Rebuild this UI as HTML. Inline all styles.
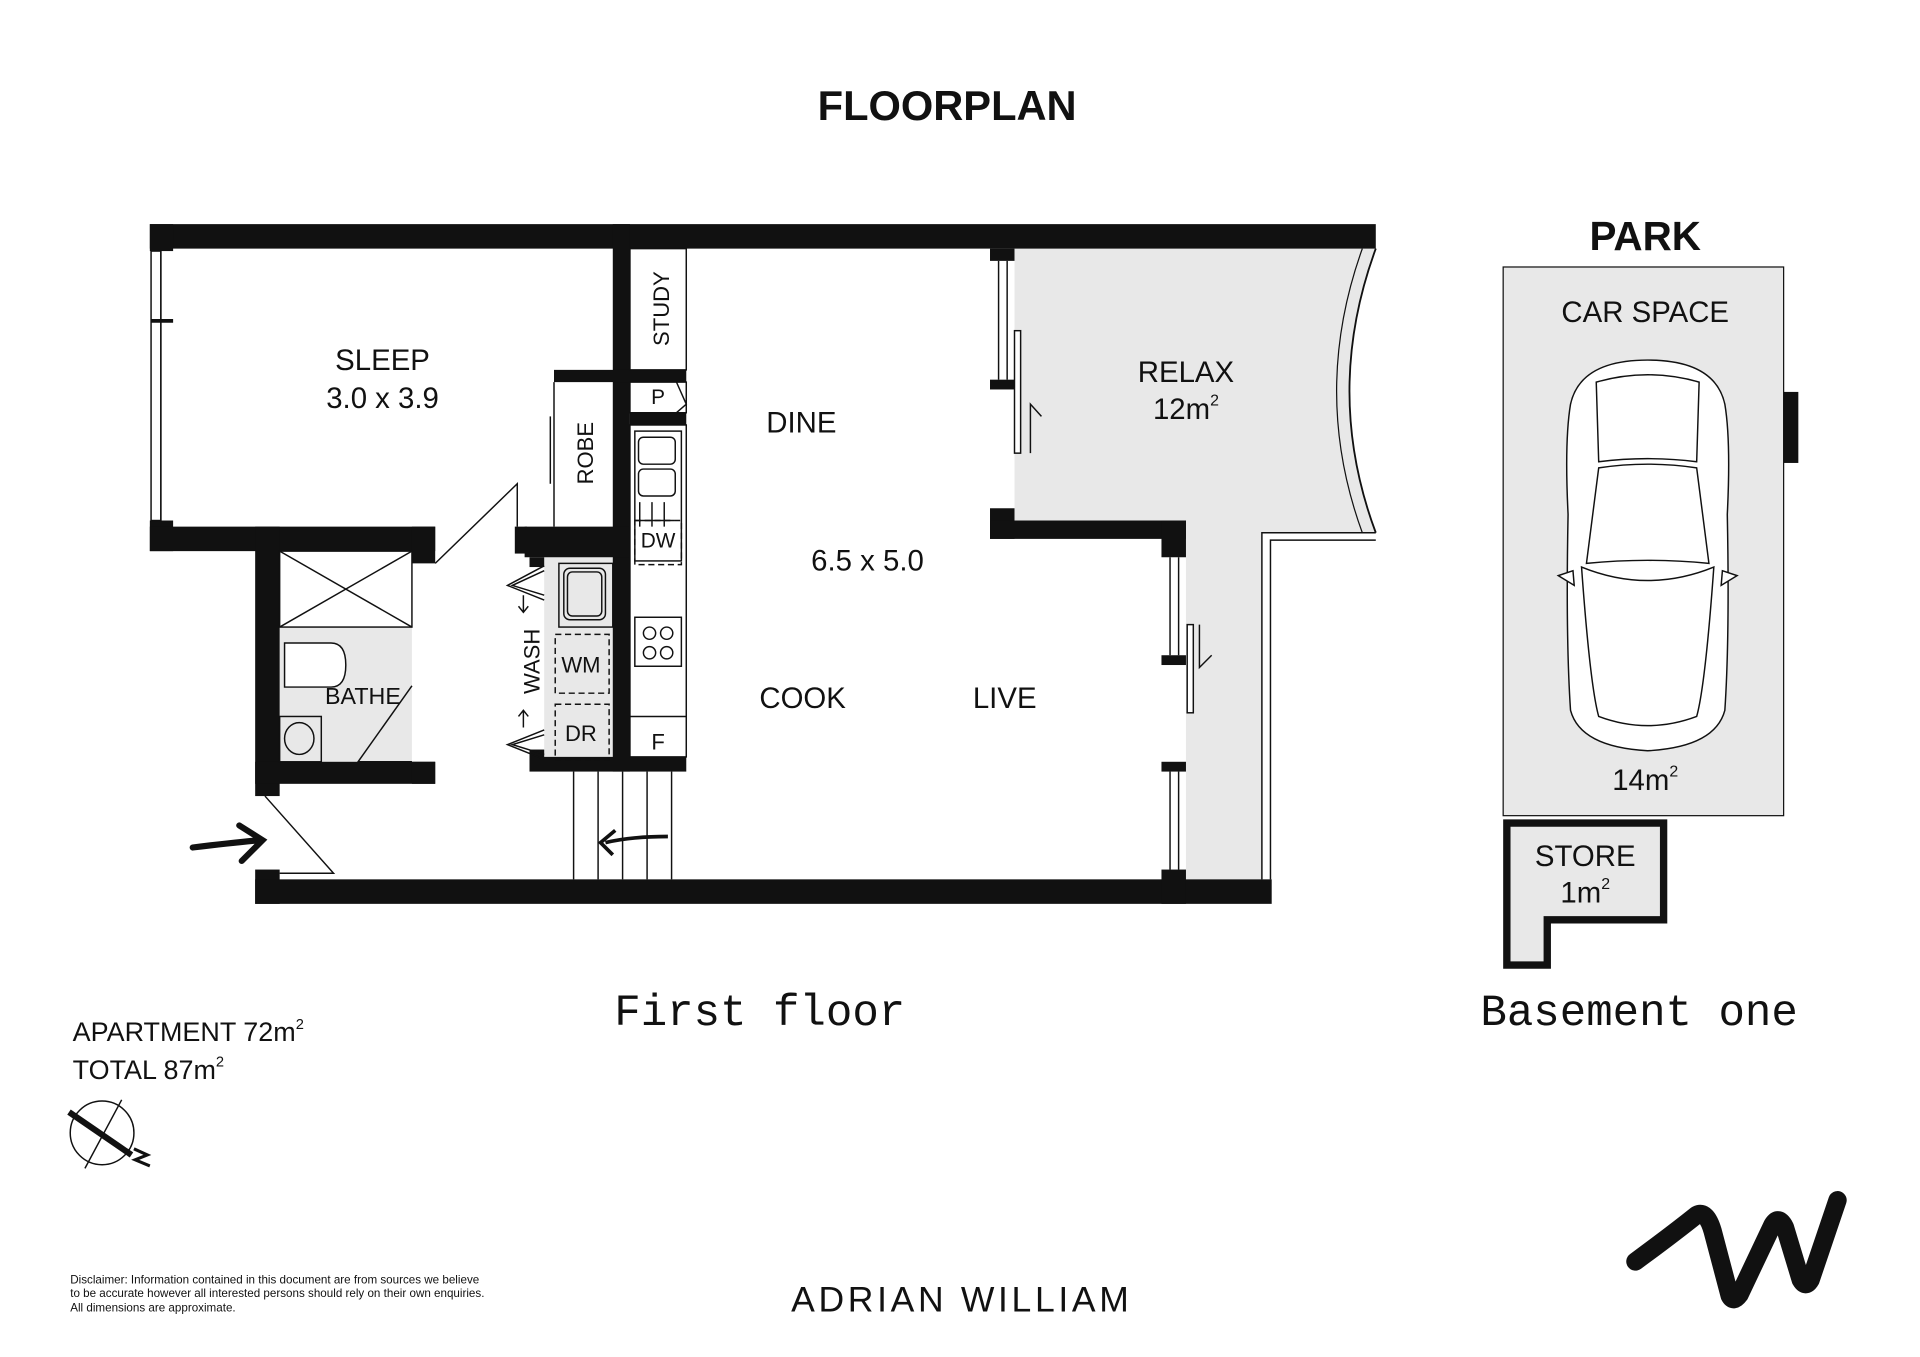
<!DOCTYPE html>
<html><head><meta charset="utf-8"><style>
html,body{margin:0;padding:0;background:#fff;}
svg{display:block;}
text{font-family:"Liberation Sans",sans-serif;fill:#111;}
</style></head><body>
<svg width="1920" height="1357" viewBox="0 0 1567 1108" xmlns="http://www.w3.org/2000/svg">
<rect width="1567" height="1108" fill="#fff"/>
<text x="773" y="98" font-size="34" font-weight="bold" text-anchor="middle">FLOORPLAN</text>

<path d="M828 203 L1123 203 Q1080 320 1123 435 L1030 435 L1030 718 L968 718 L968 425 L828 425 Z" fill="#e8e8e8"/>
<path d="M1123 203 Q1080 320 1123 435" fill="none" stroke="#111" stroke-width="1.5"/>
<path d="M1112 203 Q1070 320 1112 435" fill="none" stroke="#111" stroke-width="1"/>
<path d="M1123 435 L1030 435 L1030 718 M1123 441 L1037 441 L1037 718" fill="none" stroke="#111" stroke-width="1.2"/>
<rect x="228" y="512" width="108" height="110" fill="#e8e8e8"/>
<rect x="444" y="455" width="56" height="168" fill="#e8e8e8"/>

<g fill="#111">
<rect x="122" y="183" width="1001" height="20"/>
<rect x="122" y="183" width="19" height="22"/>
<rect x="122" y="425" width="19" height="25"/>
<rect x="122" y="430" width="233" height="20"/>
<rect x="208" y="430" width="20" height="220"/>
<rect x="208" y="622" width="147" height="18"/>
<rect x="336" y="430" width="19" height="30"/>
<rect x="336" y="622" width="19" height="18"/>
<rect x="208" y="710" width="20" height="28"/>
<rect x="208" y="718" width="830" height="20"/>
<rect x="500" y="183" width="14" height="447"/>
<rect x="452" y="302" width="108" height="10"/>
<rect x="514" y="337" width="46" height="10"/>
<rect x="428" y="430" width="86" height="25"/>
<rect x="420" y="430" width="10" height="22"/>
<rect x="432" y="455" width="12" height="8"/>
<rect x="432" y="612" width="12" height="16"/>
<rect x="432" y="618" width="128" height="12"/>
<rect x="808" y="203" width="20" height="10"/>
<rect x="808" y="310" width="20" height="8"/>
<rect x="808" y="415" width="20" height="25"/>
<rect x="808" y="425" width="160" height="15"/>
<rect x="948" y="425" width="20" height="30"/>
<rect x="948" y="535" width="20" height="8"/>
<rect x="948" y="622" width="20" height="8"/>
<rect x="948" y="710" width="20" height="28"/>
<rect x="1442" y="320" width="26" height="58"/>
</g>

<g fill="none" stroke="#111" stroke-width="1.2">
<rect x="123" y="205" width="8" height="220"/><line x1="131" y1="205" x2="131" y2="425"/><line x1="123" y1="262" x2="141" y2="262" stroke-width="3"/>
<line x1="815" y1="213" x2="815" y2="310"/><line x1="822" y1="213" x2="822" y2="310"/>
<rect x="828" y="270" width="5" height="100" fill="#fff"/>
<path d="M841 370 V330 L850 340"/>
<line x1="955" y1="455" x2="955" y2="535"/><line x1="962" y1="455" x2="962" y2="535"/>
<rect x="969" y="510" width="5" height="72" fill="#fff"/>
<path d="M979 510 V545 L989 535"/>
<line x1="955" y1="630" x2="955" y2="710"/><line x1="962" y1="630" x2="962" y2="710"/>
<rect x="514" y="203" width="46" height="99"/>
<rect x="514" y="312" width="46" height="25"/>
<path d="M552 312 L560 330 L552 337"/>
<rect x="514" y="347" width="46" height="271"/>
<line x1="514" y1="585" x2="560" y2="585"/>
<rect x="518" y="352" width="38" height="106"/>
<rect x="521" y="357" width="30" height="22" rx="4"/><rect x="521" y="383" width="30" height="22" rx="4"/>
<line x1="522" y1="410" x2="522" y2="430"/><line x1="532" y1="410" x2="532" y2="430"/><line x1="542" y1="410" x2="542" y2="430"/><line x1="518" y1="425" x2="550" y2="425"/>
<rect x="518" y="425" width="38" height="36" stroke-dasharray="5 3"/>
<rect x="518" y="504" width="38" height="40"/>
<circle cx="530" cy="517" r="5"/><circle cx="544" cy="517" r="5"/><circle cx="530" cy="533" r="5"/><circle cx="544" cy="533" r="5"/>
<line x1="452" y1="312" x2="452" y2="430"/><line x1="449" y1="340" x2="449" y2="395"/>
<rect x="456" y="460" width="44" height="52"/>
<rect x="460" y="464" width="34" height="42" rx="5"/><rect x="463" y="467" width="28" height="36" rx="4"/>
<rect x="453" y="518" width="44" height="48" stroke-dasharray="5 3"/>
<rect x="453" y="575" width="44" height="45" stroke-dasharray="5 3"/>
<path d="M444 462 L414 478 L444 490 M444 466 L418 478 L444 486"/>
<path d="M444 596 L414 608 L444 620 M444 600 L418 608 L444 616"/>
<path d="M427 486 V500 M423 495 L427 500 L431 495"/>
<path d="M427 594 V580 M423 585 L427 580 L431 585"/>
<rect x="228" y="450" width="108" height="62"/>
<line x1="228" y1="450" x2="336" y2="512"/><line x1="336" y1="450" x2="228" y2="512"/>
<path d="M232 525 H270 Q282 525 282 543 Q282 561 270 561 H232 Z" fill="#fff"/>
<rect x="228" y="585" width="34" height="37"/><ellipse cx="244" cy="603" rx="12" ry="13"/>
<path d="M355 460 L422 395 L422 430"/>
<path d="M336 560 L292 622 L336 622"/>
<path d="M216 650 L272 713 L228 713"/>
<line x1="468" y1="630" x2="468" y2="718"/><line x1="488" y1="630" x2="488" y2="718"/><line x1="508" y1="630" x2="508" y2="718"/><line x1="528" y1="630" x2="528" y2="718"/><line x1="548" y1="630" x2="548" y2="718"/>
</g>
<path d="M545 683 Q515 683 494 688 M502 678 L490 688 L500 698" fill="none" stroke="#111" stroke-width="3"/>
<path d="M157 692 Q190 688 212 686 M195 674 L214 686 L197 703" fill="none" stroke="#111" stroke-width="5" stroke-linecap="round"/>

<g font-size="24" text-anchor="middle">
<text x="312" y="302">SLEEP</text><text x="312" y="333">3.0 x 3.9</text>
<text x="654" y="353">DINE</text>
<text x="708" y="466">6.5 x 5.0</text>
<text x="655" y="578">COOK</text><text x="820" y="578">LIVE</text>
<text x="968" y="312">RELAX</text><text x="968" y="342">12m<tspan font-size="13" dy="-11">2</tspan></text>
</g>
<text x="296" y="575" font-size="19" text-anchor="middle">BATHE</text>
<text x="474" y="549" font-size="18" text-anchor="middle">WM</text>
<text x="474" y="605" font-size="18" text-anchor="middle">DR</text>
<text x="537" y="447" font-size="17" text-anchor="middle">DW</text>
<text x="537" y="330" font-size="17" text-anchor="middle">P</text>
<text x="537" y="612" font-size="18" text-anchor="middle">F</text>
<text transform="translate(546,252) rotate(-90)" font-size="18" text-anchor="middle">STUDY</text>
<text transform="translate(484,370) rotate(-90)" font-size="18" text-anchor="middle">ROBE</text>
<text transform="translate(440,540) rotate(-90)" font-size="18" text-anchor="middle">WASH</text>

<text x="620" y="837" font-size="36" text-anchor="middle" style="font-family:'Liberation Mono',monospace">First floor</text>
<text x="1338" y="837" font-size="36" text-anchor="middle" style="font-family:'Liberation Mono',monospace">Basement one</text>

<text x="1343" y="204" font-size="33" font-weight="bold" text-anchor="middle">PARK</text>
<rect x="1227" y="218" width="229" height="448" fill="#e8e8e8" stroke="#111" stroke-width="1"/>
<text x="1343" y="263" font-size="24" text-anchor="middle">CAR SPACE</text>
<g fill="#fff" stroke="#111" stroke-width="1.2">
<path d="M1345 294 Q1400 294 1408 330 Q1413 360 1410 420 Q1412 520 1408 580 Q1400 610 1345 613 Q1290 610 1282 580 Q1278 520 1280 420 Q1277 360 1282 330 Q1290 294 1345 294 Z"/>
<path d="M1303 312 Q1345 300 1387 312 L1385 377 Q1345 372 1305 377 Z" fill="none"/>
<path d="M1305 382 Q1345 376 1385 382 L1395 460 Q1345 455 1295 460 Z" fill="none"/>
<path d="M1291 463 Q1345 485 1399 463 Q1392 560 1385 585 Q1345 600 1305 585 Q1298 560 1291 463 Z" fill="none"/>
<path d="M1272 470 L1285 478 L1284 466 Z"/><path d="M1418 470 L1405 478 L1406 466 Z"/>
</g>
<text x="1343" y="645" font-size="24" text-anchor="middle">14m<tspan font-size="13" dy="-11">2</tspan></text>
<path d="M1230 672 H1358 V751 H1263 V788 H1230 Z" fill="#e8e8e8" stroke="#111" stroke-width="6"/>
<text x="1294" y="707" font-size="24" text-anchor="middle">STORE</text>
<text x="1294" y="737" font-size="24" text-anchor="middle">1m<tspan font-size="13" dy="-11">2</tspan></text>

<text x="59" y="850" font-size="22">APARTMENT 72m<tspan font-size="12" dy="-10">2</tspan></text>
<text x="59" y="881" font-size="22">TOTAL 87m<tspan font-size="12" dy="-10">2</tspan></text>
<g fill="none" stroke="#111">
<circle cx="83" cy="925" r="26" stroke-width="1.2"/>
<line x1="69" y1="954" x2="99" y2="898" stroke-width="1.2"/>
<line x1="56" y1="908" x2="107" y2="943" stroke-width="5"/>
<path d="M109 938 L120 943 L110 947 L122 952" stroke-width="2.5"/>
</g>
<text x="57" y="1048" font-size="9.5">Disclaimer: Information contained in this document are from sources we believe</text>
<text x="57" y="1059" font-size="9.5">to be accurate however all interested persons should rely on their own enquiries.</text>
<text x="57" y="1071" font-size="9.5">All dimensions are approximate.</text>
<text x="785" y="1071" font-size="29" text-anchor="middle" letter-spacing="3">ADRIAN WILLIAM</text>
<path d="M1335 1030 Q1365 1008 1385 992 Q1393 988 1398 1005 L1412 1058 Q1415 1064 1420 1057 L1447 1000 Q1452 992 1457 1002 L1470 1045 Q1474 1052 1478 1045 L1500 980" fill="none" stroke="#111" stroke-width="15" stroke-linecap="round" stroke-linejoin="round"/>
</svg>
</body></html>
